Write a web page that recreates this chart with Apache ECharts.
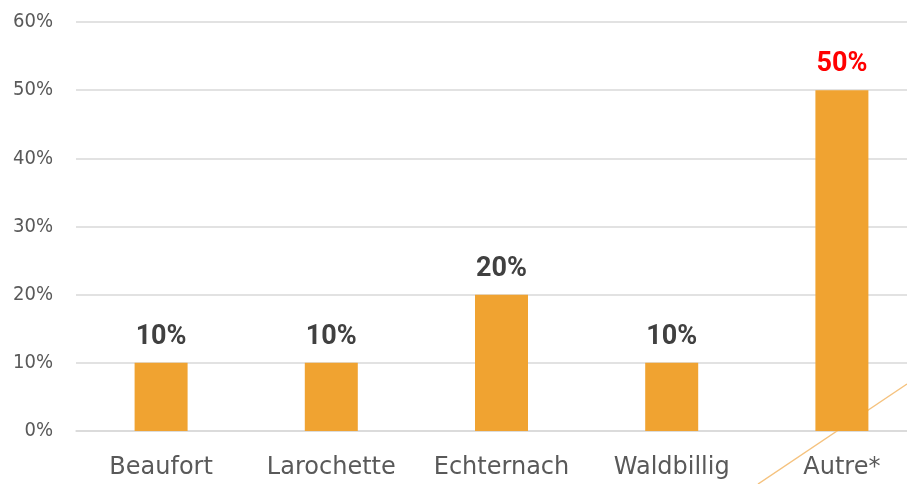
<!DOCTYPE html>
<html>
<head>
<meta charset="utf-8">
<style>
	html, body { margin: 0; padding: 0; background: #fff; overflow: hidden; }
	#chart { width: 927px; height: 484px; }
</style>
<script src="https://cdn.jsdelivr.net/npm/echarts@6/dist/echarts.min.js"></script>
</head>
<body>
<div id="chart"></div>
<script>
var categories = ['Beaufort', 'Larochette', 'Echternach', 'Waldbillig', 'Autre*'];
var shares = [10, 10, 20, 10, 50];
var labelColors = ['#404040', '#404040', '#404040', '#404040', '#FF0000'];

// the plot runs past the right edge of the 907px window, like the original crop
var chart = echarts.init(document.getElementById('chart'));

var barData = shares.map(function(v, i) {
	return {
		value: v,
		label: { color: labelColors[i] }
	};
});

chart.setOption({
	animation: false,
	grid: { left: 76, right: 0, top: 22, bottom: 53, containLabel: false },
	xAxis: {
		type: 'category',
		data: categories,
		axisLine: { show: true, lineStyle: { color: '#D9D9D9', width: 1.5 } },
		axisTick: { show: false },
		axisLabel: {
			interval: 0,
			margin: 25,
			color: '#595959',
			fontSize: 24,
			fontFamily: 'DejaVu Sans'
		}
	},
	yAxis: {
		type: 'value',
		min: 0,
		max: 60,
		interval: 10,
		axisLine: { show: false },
		axisTick: { show: false },
		splitLine: { lineStyle: { color: '#D9D9D9', width: 1.5 } },
		axisLabel: {
			formatter: '{value}%',
			margin: 23,
			color: '#595959',
			fontSize: 20,
			fontFamily: 'DejaVu Sans Condensed'
		}
	},
	series: [{
		type: 'bar',
		data: barData,
		barWidth: 53,
		z: 3,
		itemStyle: { color: '#F0A331' },
		label: {
			show: true,
			position: 'top',
			distance: 12,
			formatter: '{c}%',
			fontSize: 27,
			fontWeight: 'bold',
			fontFamily: 'Roboto'
		}
	}],
	graphic: [{
		type: 'line',
		z: 1,
		silent: true,
		shape: { x1: 758, y1: 484, x2: 907, y2: 384 },
		style: { stroke: '#F5C27E', lineWidth: 1.5 }
	}]
});
</script>
</body>
</html>
